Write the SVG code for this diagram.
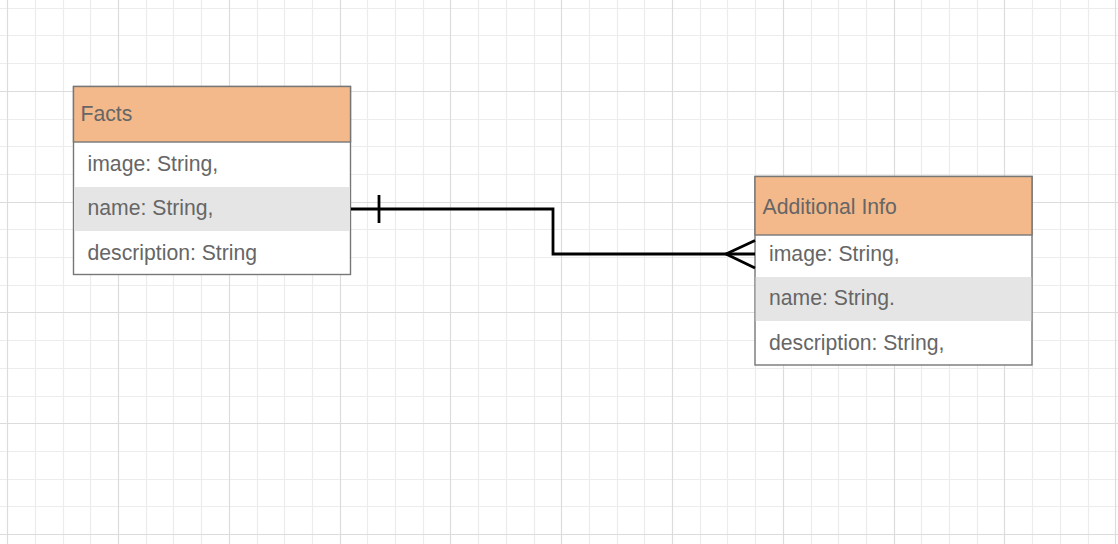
<svg xmlns="http://www.w3.org/2000/svg" width="1118" height="544" viewBox="0 0 1118 544">
<defs>
<style>
.minor{fill:none;stroke:#ececec;stroke-width:1.2}
.major{fill:none;stroke:#dcdcdc;stroke-width:1.2}
.hdr{fill:#f3b98a;stroke:#777;stroke-width:1.4}
.box{fill:#fff;stroke:#777;stroke-width:1.4}
.alt{fill:#e5e5e5}
.t{font-family:"Liberation Sans",Arial,sans-serif;font-size:21.2px;fill:#666}
.conn{fill:none;stroke:#000;stroke-width:2.8}
</style>
</defs>
<rect width="1118" height="544" fill="#fff"/>
<g id="grid">
<path class="minor" d="M35.5 0V544M63.5 0V544M90.5 0V544M146.5 0V544M173.5 0V544M201.5 0V544M257.5 0V544M284.5 0V544M312.5 0V544M367.5 0V544M395.5 0V544M423.5 0V544M478.5 0V544M506.5 0V544M534.5 0V544M589.5 0V544M617.5 0V544M644.5 0V544M700.5 0V544M727.5 0V544M755.5 0V544M811.5 0V544M838.5 0V544M866.5 0V544M921.5 0V544M949.5 0V544M977.5 0V544M1032.5 0V544M1060.5 0V544M1088.5 0V544
M0 8.5H1118M0 35.5H1118M0 63.5H1118M0 119.5H1118M0 146.5H1118M0 174.5H1118M0 229.5H1118M0 257.5H1118M0 285.5H1118M0 340.5H1118M0 368.5H1118M0 396.5H1118M0 451.5H1118M0 479.5H1118M0 506.5H1118"/>
<path class="major" d="M7.5 0V544M118.5 0V544M229.5 0V544M340.5 0V544M450.5 0V544M561.5 0V544M672.5 0V544M783.5 0V544M894.5 0V544M1004.5 0V544M1115.5 0V544
M0 91.5H1118M0 202.5H1118M0 312.5H1118M0 423.5H1118M0 534.5H1118"/>
</g>

<g id="facts">
<rect class="box" x="73.5" y="86.5" width="277" height="188"/>
<rect class="alt" x="74.2" y="187" width="275.6" height="44"/>
<rect class="hdr" x="73.5" y="86.5" width="277" height="55.5"/>
<text class="t" x="80.5" y="121">Facts</text>
<text class="t" x="87.5" y="171">image: String,</text>
<text class="t" x="87.5" y="215">name: String,</text>
<text class="t" x="87.5" y="260">description: String</text>
</g>

<g id="additional-info">
<rect class="box" x="755" y="176.5" width="277" height="188.5"/>
<rect class="alt" x="755.7" y="277" width="275.6" height="44"/>
<rect class="hdr" x="755" y="176.5" width="277" height="58.5"/>
<text class="t" x="762.5" y="213.5">Additional Info</text>
<text class="t" x="769" y="261">image: String,</text>
<text class="t" x="769" y="305">name: String.</text>
<text class="t" x="769" y="350">description: String,</text>
</g>

<g id="connectors">
<path class="conn" d="M351 209H553V254H755"/>
<path class="conn" d="M379 195V223"/>
<path class="conn" d="M755 240.5L726 254L755 268"/>
</g>
</svg>
